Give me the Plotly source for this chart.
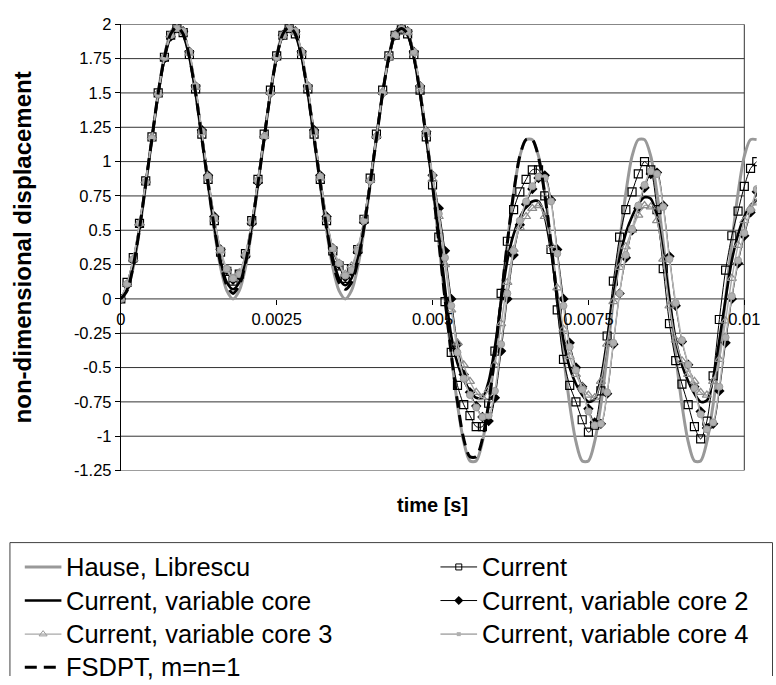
import plotly.graph_objects as go

# ---------------- data: non-dimensional displacement, sampled every 0.1 ms ----------------
time_step_s = 1e-4

hause_librescu = [
    0, 0.06, 0.23, 0.5, 0.83, 1.17, 1.5, 1.77, 1.94, 1.99,
    1.94, 1.77, 1.5, 1.17, 0.83, 0.5, 0.23, 0.06, 0, 0.06,
    0.23, 0.5, 0.83, 1.17, 1.5, 1.77, 1.94, 1.99, 1.94, 1.77,
    1.5, 1.17, 0.83, 0.5, 0.23, 0.06, 0, 0.06, 0.23, 0.5,
    0.83, 1.17, 1.5, 1.77, 1.94, 1.99, 1.94, 1.77, 1.5, 1.17,
    0.83, 0.41, 0, -0.41, -0.77, -1.04, -1.18, -1.18, -1.04, -0.77,
    -0.41, 0, 0.41, 0.77, 1.04, 1.16, 1.16, 1.04, 0.77, 0.41,
    0, -0.41, -0.77, -1.04, -1.18, -1.18, -1.04, -0.77, -0.41, 0,
    0.41, 0.77, 1.04, 1.16, 1.16, 1.04, 0.77, 0.41, 0, -0.41,
    -0.77, -1.04, -1.18, -1.18, -1.04, -0.77, -0.41, 0, 0.41, 0.77,
    1.04, 1.16, 1.16,
]

current = [
    0, 0.12, 0.3, 0.55, 0.86, 1.18, 1.5, 1.76, 1.92, 1.97,
    1.94, 1.78, 1.53, 1.2, 0.87, 0.57, 0.34, 0.2, 0.13, 0.18,
    0.33, 0.57, 0.87, 1.2, 1.52, 1.77, 1.92, 1.97, 1.93, 1.78,
    1.53, 1.2, 0.87, 0.57, 0.35, 0.24, 0.15, 0.22, 0.36, 0.58,
    0.88, 1.2, 1.52, 1.77, 1.92, 1.96, 1.93, 1.78, 1.52, 1.18,
    0.83, 0.45, -0.02, -0.39, -0.63, -0.77, -0.85, -0.93, -0.93, -0.76,
    -0.38, 0.04, 0.42, 0.65, 0.78, 0.87, 0.94, 0.94, 0.75, 0.36,
    -0.08, -0.44, -0.63, -0.75, -0.88, -0.97, -0.92, -0.67, -0.27, 0.13,
    0.45, 0.65, 0.78, 0.91, 1.0, 0.94, 0.65, 0.22, -0.18, -0.45,
    -0.62, -0.77, -0.93, -1.02, -0.89, -0.56, -0.15, 0.21, 0.46, 0.64,
    0.82, 0.95, 1.0,
]

current_var_core = [
    0, 0.07, 0.25, 0.52, 0.84, 1.17, 1.49, 1.75, 1.91, 1.96,
    1.92, 1.76, 1.5, 1.18, 0.85, 0.53, 0.28, 0.12, 0.07, 0.12,
    0.28, 0.53, 0.85, 1.18, 1.5, 1.76, 1.92, 1.96, 1.92, 1.76,
    1.5, 1.18, 0.85, 0.54, 0.3, 0.15, 0.1, 0.15, 0.3, 0.54,
    0.85, 1.18, 1.5, 1.76, 1.92, 1.96, 1.92, 1.76, 1.5, 1.17,
    0.83, 0.48, 0.08, -0.27, -0.47, -0.59, -0.67, -0.72, -0.72, -0.6,
    -0.35, -0.02, 0.28, 0.47, 0.59, 0.67, 0.71, 0.71, 0.6, 0.35,
    0.02, -0.3, -0.5, -0.62, -0.7, -0.75, -0.73, -0.58, -0.3, 0.02,
    0.3, 0.48, 0.6, 0.69, 0.74, 0.73, 0.6, 0.33, 0.0, -0.3,
    -0.48, -0.6, -0.69, -0.75, -0.74, -0.58, -0.3, 0.0, 0.28, 0.47,
    0.6, 0.68, 0.72,
]

current_var_core_2 = [
    0, 0.1, 0.28, 0.54, 0.85, 1.17, 1.49, 1.75, 1.91, 1.97,
    1.95, 1.8, 1.55, 1.23, 0.9, 0.6, 0.36, 0.21, 0.14, 0.17,
    0.31, 0.55, 0.85, 1.18, 1.5, 1.76, 1.92, 1.97, 1.95, 1.8,
    1.55, 1.23, 0.9, 0.6, 0.37, 0.25, 0.16, 0.2, 0.34, 0.56,
    0.86, 1.18, 1.5, 1.76, 1.92, 1.97, 1.95, 1.8, 1.55, 1.22,
    0.9, 0.66, 0.35, 0.0, -0.33, -0.55, -0.68, -0.78, -0.86, -0.89,
    -0.72, -0.38, 0.0, 0.32, 0.54, 0.69, 0.8, 0.88, 0.9, 0.72,
    0.36, 0.0, -0.32, -0.5, -0.64, -0.8, -0.9, -0.91, -0.69, -0.33,
    0.04, 0.3, 0.5, 0.66, 0.81, 0.91, 0.92, 0.68, 0.31, -0.05,
    -0.31, -0.48, -0.64, -0.82, -0.94, -0.91, -0.67, -0.32, 0.0, 0.26,
    0.46, 0.63, 0.78,
]

current_var_core_3 = [
    0, 0.11, 0.29, 0.55, 0.86, 1.18, 1.5, 1.76, 1.92, 1.97,
    1.94, 1.79, 1.54, 1.21, 0.88, 0.58, 0.35, 0.21, 0.15, 0.19,
    0.33, 0.57, 0.87, 1.19, 1.51, 1.77, 1.92, 1.97, 1.94, 1.79,
    1.54, 1.21, 0.88, 0.58, 0.36, 0.26, 0.18, 0.24, 0.37, 0.58,
    0.87, 1.19, 1.51, 1.76, 1.92, 1.96, 1.94, 1.79, 1.53, 1.2,
    0.87, 0.6, 0.25, -0.08, -0.32, -0.48, -0.6, -0.68, -0.72, -0.66,
    -0.48, -0.18, 0.12, 0.36, 0.52, 0.6, 0.66, 0.68, 0.6, 0.39,
    0.08, -0.22, -0.42, -0.55, -0.64, -0.7, -0.72, -0.6, -0.33, -0.02,
    0.23, 0.38, 0.5, 0.61, 0.68, 0.67, 0.57, 0.29, -0.05, -0.3,
    -0.45, -0.55, -0.6, -0.68, -0.7, -0.6, -0.44, -0.16, 0.15, 0.39,
    0.57, 0.66, 0.7,
]

current_var_core_4 = [
    0, 0.11, 0.29, 0.55, 0.85, 1.17, 1.49, 1.76, 1.92, 1.97,
    1.95, 1.8, 1.55, 1.22, 0.89, 0.59, 0.36, 0.22, 0.15, 0.18,
    0.32, 0.56, 0.86, 1.18, 1.5, 1.76, 1.92, 1.97, 1.95, 1.8,
    1.55, 1.22, 0.89, 0.59, 0.37, 0.26, 0.17, 0.21, 0.35, 0.57,
    0.86, 1.18, 1.5, 1.76, 1.92, 1.97, 1.95, 1.8, 1.55, 1.22,
    0.9, 0.62, 0.3, -0.05, -0.39, -0.58, -0.7, -0.79, -0.86, -0.85,
    -0.67, -0.33, 0.04, 0.35, 0.57, 0.71, 0.82, 0.89, 0.88, 0.71,
    0.33, -0.05, -0.35, -0.52, -0.66, -0.82, -0.92, -0.91, -0.68, -0.32,
    0.04, 0.32, 0.51, 0.68, 0.83, 0.93, 0.91, 0.67, 0.29, -0.03,
    -0.3, -0.48, -0.65, -0.84, -0.95, -0.9, -0.64, -0.28, 0.02, 0.28,
    0.48, 0.65, 0.8,
]

fsdpt_m1_n1 = [
    0, 0.06, 0.24, 0.51, 0.84, 1.17, 1.5, 1.76, 1.93, 1.98,
    1.93, 1.76, 1.5, 1.17, 0.84, 0.52, 0.26, 0.1, 0.04, 0.1,
    0.26, 0.52, 0.84, 1.17, 1.5, 1.76, 1.93, 1.98, 1.93, 1.76,
    1.5, 1.17, 0.84, 0.52, 0.27, 0.12, 0.07, 0.12, 0.27, 0.52,
    0.84, 1.17, 1.5, 1.76, 1.93, 1.97, 1.93, 1.76, 1.5, 1.17,
    0.83, 0.42, 0.0, -0.4, -0.75, -1.02, -1.15, -1.15, -1.02, -0.76,
    -0.41, 0.0, 0.41, 0.77, 1.04, 1.16, 1.16, 1.03, 0.76, 0.4,
    0.0,
]

time_s = [round(k * time_step_s, 4) for k in range(len(hause_librescu))]

y_tick_vals = [2, 1.75, 1.5, 1.25, 1, 0.75, 0.5, 0.25, 0, -0.25, -0.5, -0.75, -1, -1.25]
y_tick_text = ["2", "1.75", "1.5", "1.25", "1", "0.75", "0.5", "0.25", "0",
               "-0.25", "-0.5", "-0.75", "-1", "-1.25"]
x_tick_vals = [0, 0.0025, 0.005, 0.0075, 0.01]
x_tick_text = ["0", "0.0025", "0.005", "0.0075", "0.01"]

# ---------------- styles ----------------
FONT = "Arial, 'Liberation Sans', sans-serif"
series = [
    dict(name="Hause, Librescu", y=hause_librescu, mode="lines",
         line=dict(color="#999999", width=3), marker=None),
    dict(name="Current", y=current, mode="lines+markers",
         line=dict(color="#000000", width=1),
         marker=dict(symbol="square-open", size=8, color="#000000", line=dict(width=1.2))),
    dict(name="Current, variable core", y=current_var_core, mode="lines",
         line=dict(color="#000000", width=2.6), marker=None),
    dict(name="Current, variable core 2", y=current_var_core_2, mode="lines+markers",
         line=dict(color="#000000", width=1),
         marker=dict(symbol="diamond", size=8, color="#000000")),
    dict(name="Current, variable core 3", y=current_var_core_3, mode="lines+markers",
         line=dict(color="#a8a8a8", width=1.4),
         marker=dict(symbol="triangle-up-open", size=8, color="#8c8c8c", line=dict(width=1.2))),
    dict(name="Current, variable core 4", y=current_var_core_4, mode="lines+markers",
         line=dict(color="#b4b4b4", width=1.6),
         marker=dict(symbol="circle", size=7, color="#b0b0b0", line=dict(color="#9a9a9a", width=1))),
    dict(name="FSDPT, m=n=1", y=fsdpt_m1_n1, mode="lines",
         line=dict(color="#000000", width=3, dash="12px,7px"), marker=None),
]

# ---------------- geometry (pixels) ----------------
W, H = 776, 685
X_LEFT_PX, X_001_PX = 117, 747          # x = 0 and x = 0.01
Y_TOP_PX, Y_BOT_PX = 15.7, 474          # y = 2 and y = -1.25
X_MAX = 0.0102
px_per_s = (X_001_PX - X_LEFT_PX) / 0.01
x_right_px = X_LEFT_PX + X_MAX * px_per_s
y_dom = [1 - Y_BOT_PX / H, 1 - Y_TOP_PX / H]
y_zero_frac = y_dom[0] + (1.25 / 3.25) * (y_dom[1] - y_dom[0])

fig = go.Figure()

for s in series:
    kw = dict(x=time_s[:len(s["y"])], y=s["y"], mode=s["mode"], name=s["name"],
              line=dict(shape="spline", smoothing=0.8, **s["line"]),
              showlegend=False, xaxis="x", yaxis="y", hoverinfo="skip")
    if s["marker"] is not None:
        kw["marker"] = s["marker"]
    fig.add_trace(go.Scatter(**kw))

# ---------------- hand-placed legend (pixel coordinates on x2/y2) ----------------
legend_rows = [573, 607.5, 642, 676]
legend_cols = [20, 440]
sym_len = 37
legend_markers = {
    "Current": dict(symbol="square-open", size=6, color="#000000", line=dict(width=1)),
    "Current, variable core 2": dict(symbol="diamond", size=7, color="#000000"),
    "Current, variable core 3": dict(symbol="triangle-up-open", size=7, color="#9a9a9a",
                                     line=dict(width=1)),
    "Current, variable core 4": dict(symbol="square", size=4, color="#b0b0b0"),
}
annotations = []
for i, s in enumerate(series):
    col, row = i % 2, i // 2
    x0 = legend_cols[col]
    yy = legend_rows[row]
    fig.add_trace(go.Scatter(x=[x0, x0 + sym_len], y=[yy, yy], mode="lines",
                             line=s["line"], showlegend=False, xaxis="x2", yaxis="y2",
                             hoverinfo="skip"))
    if s["name"] in legend_markers:
        fig.add_trace(go.Scatter(x=[x0 + sym_len / 2], y=[yy], mode="markers",
                                 marker=legend_markers[s["name"]], showlegend=False,
                                 xaxis="x2", yaxis="y2", hoverinfo="skip"))
    annotations.append(dict(x=x0 + sym_len + 3, y=yy, xref="x2", yref="y2",
                            text=s["name"], showarrow=False, xanchor="left",
                            yanchor="middle", font=dict(family=FONT, size=25.5, color="#000")))

annotations += [
    dict(x=18 / W, y=1 - 245 / H, xref="paper", yref="paper", textangle=-90,
         xanchor="center", yanchor="middle",
         text="<b>non-dimensional displacement</b>", showarrow=False,
         font=dict(family=FONT, size=24, color="#000")),
    dict(x=432 / W, y=1 - 509 / H, xref="paper", yref="paper",
         xanchor="center", yanchor="middle",
         text="<b>time [s]</b>", showarrow=False,
         font=dict(family=FONT, size=20, color="#000")),
]

shapes = []
for v in y_tick_vals:
    shapes.append(dict(type="line", xref="x", yref="y", x0=0, x1=0.01, y0=v, y1=v,
                       line=dict(color="#333333", width=1), layer="below"))
shapes.append(dict(type="line", xref="x", yref="y", x0=0.01, x1=0.01, y0=-1.25, y1=2,
                   line=dict(color="#333333", width=1), layer="below"))
shapes.append(dict(type="rect", xref="x2", yref="y2", x0=5, x1=775.5, y0=548, y1=700,
                   line=dict(color="#404040", width=1), layer="below"))

fig.update_layout(
    width=W, height=H,
    margin=dict(l=0, r=0, t=0, b=0),
    paper_bgcolor="white", plot_bgcolor="rgba(0,0,0,0)",
    showlegend=False,
    font=dict(family=FONT, color="#000"),
    xaxis=dict(domain=[X_LEFT_PX / W, x_right_px / W], range=[0, X_MAX],
               anchor="free", position=y_zero_frac,
               tickmode="array", tickvals=x_tick_vals, ticktext=x_tick_text,
               ticks="outside", ticklen=5, tickcolor="#000", tickwidth=1,
               showline=False, showgrid=False, zeroline=False,
               tickfont=dict(family=FONT, size=16.5, color="#000")),
    yaxis=dict(domain=y_dom, range=[-1.25, 2], anchor="x",
               tickmode="array", tickvals=y_tick_vals, ticktext=y_tick_text,
               ticks="outside", ticklen=5, tickcolor="#000", tickwidth=1,
               showline=True, linecolor="#000", linewidth=1,
               showgrid=False, zeroline=False,
               tickfont=dict(family=FONT, size=16.5, color="#000")),
    xaxis2=dict(domain=[0, 1], range=[0, W], visible=False, anchor="y2", fixedrange=True),
    yaxis2=dict(domain=[0, 1], range=[H, 0], visible=False, anchor="x2", fixedrange=True),
    annotations=annotations,
    shapes=shapes,
)

fig.write_html("out.html")
